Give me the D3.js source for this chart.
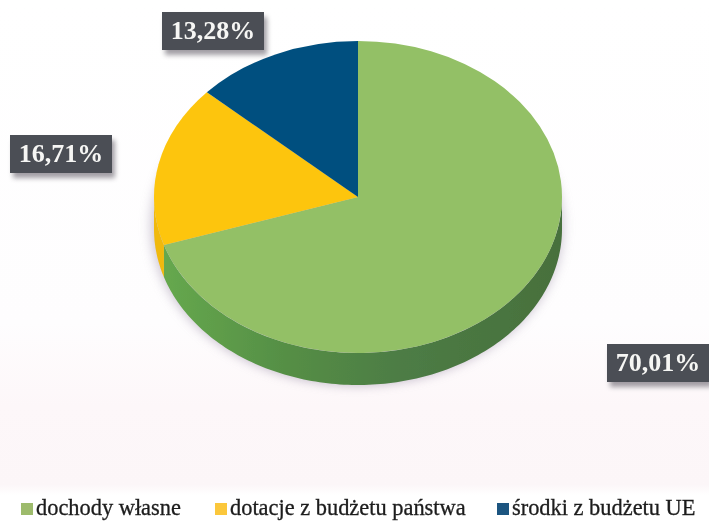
<!DOCTYPE html>
<html><head><meta charset="utf-8">
<script src="https://cdn.jsdelivr.net/npm/d3@7"></script>
<style>html,body{margin:0;padding:0;background:#fff}svg{display:block}</style>
</head><body><svg id="c" width="709" height="521"></svg>
<script>
const categories = ["dochody własne", "dotacje z budżetu państwa", "środki z budżetu UE"];
const shares = [70.01, 16.71, 13.28];
const labels = ["70,01%", "16,71%", "13,28%"];
const topColors = ["#93c066", "#fdc50a", "#03507f"];
const sideColors = ["#4f7f3e", "#f0b90c", "#02385a"];
const swatchColors = ["#9dbb6c", "#fbc73a", "#1c5580"];
const labelBoxes = [[607, 344], [10, 135], [162, 12]];
const legendX = [21, 215, 497];

(function () {
const W = 709, H = 521, cx = 358, cy = 197, rx = 204, ry = 156, depth = 32;
const svg = d3.select("#c");
const defs = svg.append("defs");
const blur = defs.append("filter").attr("id","blur").attr("x","-20%").attr("y","-20%").attr("width","140%").attr("height","140%");
blur.append("feGaussianBlur").attr("stdDeviation",6);
const lblur = defs.append("filter").attr("id","lblur").attr("x","-20%").attr("y","-40%").attr("width","140%").attr("height","180%");
lblur.append("feGaussianBlur").attr("stdDeviation",2.5);
const soft = defs.append("filter").attr("id","soft");
soft.append("feGaussianBlur").attr("stdDeviation",0.5);
const bg = defs.append("linearGradient").attr("id","bg").attr("x1",0).attr("x2",0).attr("y1",0).attr("y2",1);
[[0,"#fff"],[0.62,"#fefdfe"],[0.78,"#fdf7f9"],[0.93,"#fcf6f8"],[0.95,"#fff"],[1,"#fff"]].forEach(s=>bg.append("stop").attr("offset",s[0]).attr("stop-color",s[1]));
const sg = defs.append("linearGradient").attr("id","side").attr("x1",0).attr("x2",1).attr("y1",0).attr("y2",0);
[[0,"#66a84e"],[0.3,"#558f45"],[0.6,"#4d7c45"],[1,"#47703c"]].forEach(s=>sg.append("stop").attr("offset",s[0]).attr("stop-color",s[1]));

svg.append("rect").attr("width",W).attr("height",H).attr("fill","url(#bg)");

const pie = d3.pie().sort(null).value(d=>d);
const arcs = pie(shares);
const xAt = d3.scaleLinear().domain([0,1]).range([0,rx]);
const yAt = d3.scaleLinear().domain([0,1]).range([0,ry]);
const px = a => cx + xAt(Math.sin(a));
const py = a => cy - yAt(Math.cos(a));

// soft shadow below the pie
const sh = d3.arc().innerRadius(0).outerRadius(rx).startAngle(0).endAngle(2*Math.PI);
svg.append("g").attr("transform",`translate(${cx-1},${cy+depth-3}) scale(1.01,${ry/rx*1.03})`)
  .append("path").attr("d",sh()).attr("fill","#b8aec0").attr("opacity",0.7).attr("filter","url(#blur)");

const chart = svg.append("g").attr("filter","url(#soft)");
// side wall: only the front half of the rim shows
const area = d3.area().x(a=>px(a)).y0(a=>py(a)).y1(a=>py(a)+depth);
arcs.forEach((d,i)=>{
  const a0 = Math.max(d.startAngle, Math.PI/2), a1 = Math.min(d.endAngle, 3*Math.PI/2);
  if (a1 <= a0) return;
  const steps = d3.range(a0, a1, 0.02).concat([a1]);
  chart.append("path").attr("d",area(steps)).attr("fill", i===0 ? "url(#side)" : sideColors[i]);
});
// top surface
const arc = d3.arc().innerRadius(0).outerRadius(rx);
const face = chart.append("g").attr("transform",`translate(${cx},${cy}) scale(1,${ry/rx})`);
face.selectAll("path").data(arcs).join("path").attr("d",arc).attr("fill",(d,i)=>topColors[i]);

// value labels
const lw = 102, lh = 38;
const lg = svg.append("g").selectAll("g").data(labels).join("g")
  .attr("transform",(d,i)=>`translate(${labelBoxes[i][0]},${labelBoxes[i][1]})`);
lg.append("rect").attr("x",3).attr("y",5).attr("width",lw).attr("height",lh).attr("fill","#55505a").attr("opacity",0.55).attr("filter","url(#lblur)");
lg.append("rect").attr("width",lw).attr("height",lh).attr("fill","#4b4e55");
lg.append("text").attr("x",lw/2).attr("y",27).attr("text-anchor","middle").attr("filter","url(#soft)")
  .attr("font-family","'Liberation Serif',serif").attr("font-weight","bold").attr("font-size",26).attr("fill","#f6f6f4")
  .text(d=>d);

// legend
const leg = svg.append("g").selectAll("g").data(categories).join("g").attr("transform",(d,i)=>`translate(${legendX[i]},0)`);
leg.append("rect").attr("y",503).attr("width",12).attr("height",12).attr("fill",(d,i)=>swatchColors[i]).attr("filter","url(#soft)");
leg.append("text").attr("x",15).attr("y",515).attr("filter","url(#soft)")
  .attr("font-family","'Liberation Serif',serif").attr("font-size",22.4).attr("fill","#1c1c1c").attr("stroke","#1c1c1c").attr("stroke-width",0.3).text(d=>d);
})();
</script></body></html>
